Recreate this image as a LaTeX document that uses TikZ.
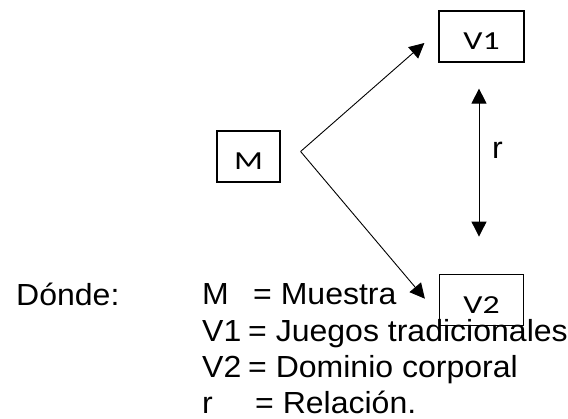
\documentclass[tikz,border=0pt]{standalone}
\usepackage{fontspec}
\setmainfont{Liberation Sans}[FakeStretch=1.05]
\newfontfamily\boxfont{Carlito}[FakeStretch=1.3]
\usepackage{tikz}
\usetikzlibrary{arrows.meta,positioning}

\begin{document}
\begin{tikzpicture}[x=1pt, y=1pt,
  box/.style={draw, line width=1.2pt, inner sep=0pt, minimum height=51pt, text height=27pt, text depth=0pt, font=\boxfont\fontsize{26}{30}\selectfont},
  arr/.style={-{Triangle[length=15pt,width=15pt]}, line width=0.9pt},
  darr/.style={{Triangle[length=15pt,width=15pt]}-{Triangle[length=15pt,width=15pt]}, line width=0.9pt},
  leg/.style={anchor=base west, inner sep=0pt, text depth=0pt, font=\fontsize{30.5}{36}\selectfont}]
\useasboundingbox (0,0) rectangle (568,-419);
% sample and variables
\node[box, minimum width=85pt] (V1) at (481.5,-36.5) {V1};
\node[box, minimum width=63pt] (M) at (248.5,-156.5) {M};
\node[box, minimum width=84pt, below=211pt of V1] (V2) {V2};

\coordinate (apex) at ([xshift=20pt,yshift=5pt]M.east);
\coordinate (V1in) at ([xshift=-14pt,yshift=-6.5pt]V1.west);
\coordinate (V2in) at ([xshift=-14pt,yshift=1pt]V2.west);
\coordinate (rtop) at ([xshift=-2.5pt,yshift=-26pt]V1.south);
\coordinate (rbot) at ([xshift=-2.5pt,yshift=37pt]V2.north);

\draw[arr] (apex) -- (V1in);
\draw[arr] (apex) -- (V2in);
\draw[darr] (rbot) -- (rtop);
\node[leg] (rlab) at (492,-159) {r};

% legend
\node[leg] (donde) at (16,-306) {Dónde:};
\node[leg] (kM) at (202,-305) {M};
\node[leg] (vM) at (253,-305) {= Muestra};
\node[leg] (kV1) at (202,-342) {V1};
\node[leg] (vV1) at (248,-342) {= Juegos tradicionales};
\node[leg] (kV2) at (202,-378) {V2};
\node[leg] (vV2) at (248,-378) {= Dominio corporal};
\node[leg] (kr) at (202,-414) {r};
\node[leg] (vr) at (255,-414) {= Relación.};
\end{tikzpicture}
\end{document}
